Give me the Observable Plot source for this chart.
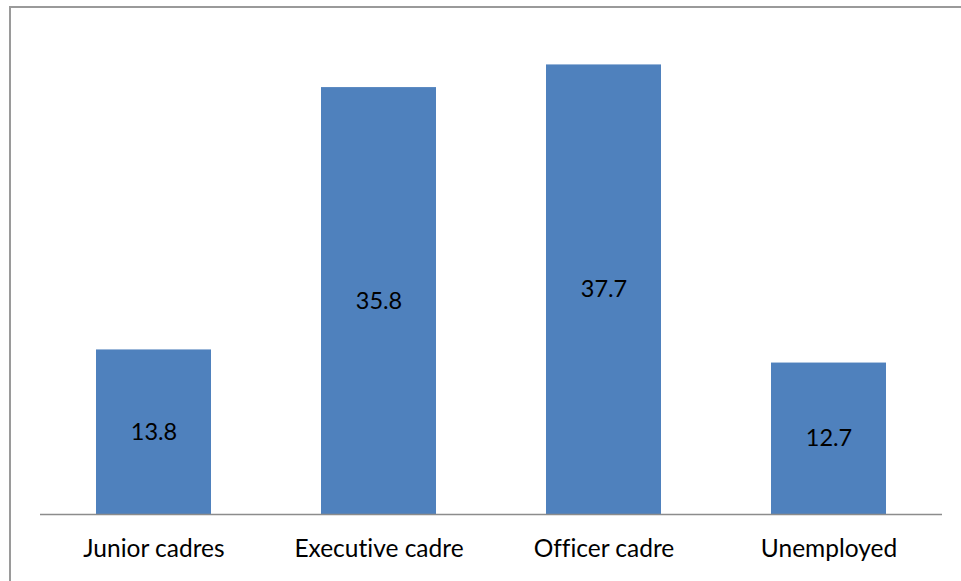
<!DOCTYPE html>
<html>
<head>
<meta charset="utf-8">
<script src="https://cdn.jsdelivr.net/npm/d3@7"></script>
<script src="https://cdn.jsdelivr.net/npm/@observablehq/plot@0.6"></script>
<style>
  html, body { margin: 0; padding: 0; background: #fff; overflow: hidden; }
  #wrap { position: relative; width: 961px; height: 581px; }
  #border { position: absolute; left: 9px; top: 6px; width: 980px; height: 600px; border: 2px solid #9a9a9a; box-sizing: border-box; }
  #chart { position: absolute; left: 0; top: 0; }
</style>
</head>
<body>
<div id="wrap"><div id="border"></div><div id="chart"></div></div>
<script>
const categories = ["Junior cadres", "Executive cadre", "Officer cadre", "Unemployed"];
const values = [13.8, 35.8, 37.7, 12.7];
const data = categories.map((c, i) => ({category: c, value: values[i]}));

const chart = Plot.plot({
  width: 961,
  height: 581,
  marginLeft: 40,
  marginRight: 19,
  marginTop: 37,
  marginBottom: 67,
  style: {fontFamily: "Lato, sans-serif", fontSize: "24.5px", color: "#000", background: "transparent", fontVariantLigatures: "none"},
  x: {domain: categories, paddingInner: 0.49, paddingOuter: 0.245, label: null, tickSize: 0, tickPadding: 25},
  y: {domain: [0, 40], axis: null},
  marks: [
    Plot.barY(data, {x: "category", y: "value", fill: "#4f81bd"}),
    Plot.ruleY([0], {stroke: "#8c8c8c", strokeWidth: 1.5}),
    Plot.text(data, {x: "category", y: d => d.value / 2, text: d => d.value.toFixed(1), fill: "#000", fontSize: 23.5})
  ]
});
document.getElementById("chart").appendChild(chart);
</script>
</body>
</html>
